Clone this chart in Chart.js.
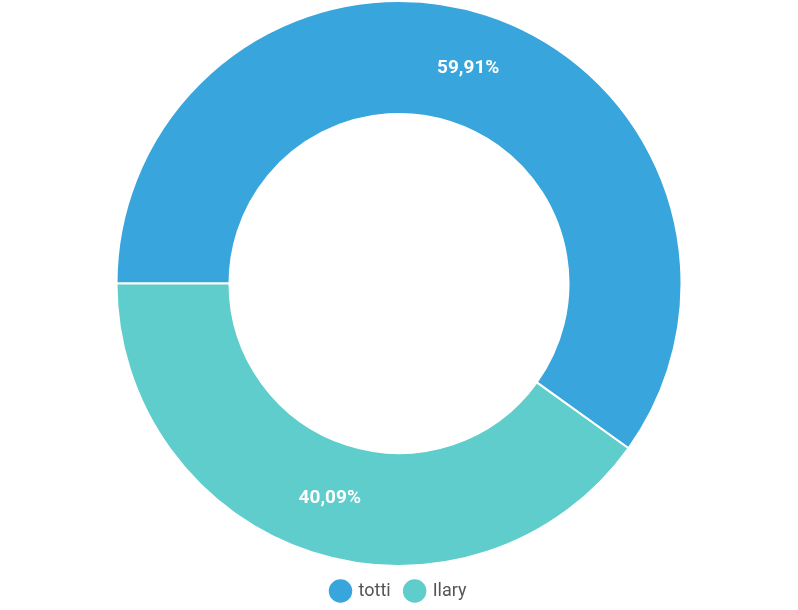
<!DOCTYPE html>
<html><head><meta charset="utf-8">
<script src="https://cdn.jsdelivr.net/npm/chart.js@4/dist/chart.umd.min.js"></script>
<style>html,body{margin:0;padding:0;background:#fff}#wrap{width:798px;height:610px}</style>
</head><body><div id="wrap"><canvas id="c"></canvas></div>
<script>
const categories = ["totti", "Ilary"];
const values = [59.91, 40.09];
const colors = ["#38A5DD", "#5ECDCB"];

const labelPlugin = {
  id: 'sliceLabels',
  afterDatasetsDraw(chart) {
    const ctx = chart.ctx;
    const meta = chart.getDatasetMeta(0);
    const total = values.reduce((a, b) => a + b, 0);
    ctx.save();
    ctx.fillStyle = '#fff';
    ctx.font = 'bold 19px Roboto';
    ctx.textAlign = 'center';
    ctx.textBaseline = 'middle';
    meta.data.forEach((arc, i) => {
      const p = arc.tooltipPosition();
      const pct = (values[i] / total * 100).toFixed(2).replace('.', ',') + '%';
      ctx.fillText(pct, p.x, p.y);
    });
    ctx.restore();
  }
};

new Chart(document.getElementById('c'), {
  type: 'doughnut',
  data: {
    labels: categories,
    datasets: [{
      data: values,
      backgroundColor: colors,
      borderColor: '#fff',
      borderWidth: 2
    }]
  },
  options: {
    responsive: true,
    maintainAspectRatio: false,
    animation: false,
    rotation: -90,
    cutout: '60%',
    layout: { padding: 0 },
    plugins: {
      legend: {
        position: 'bottom',
        labels: {
          usePointStyle: true,
          pointStyle: 'circle',
          boxWidth: 18,
          boxHeight: 18,
          padding: 15,
          color: '#555',
          font: { family: 'Roboto', size: 18 }
        }
      },
      tooltip: { enabled: false }
    }
  },
  plugins: [labelPlugin]
});
</script></body></html>
